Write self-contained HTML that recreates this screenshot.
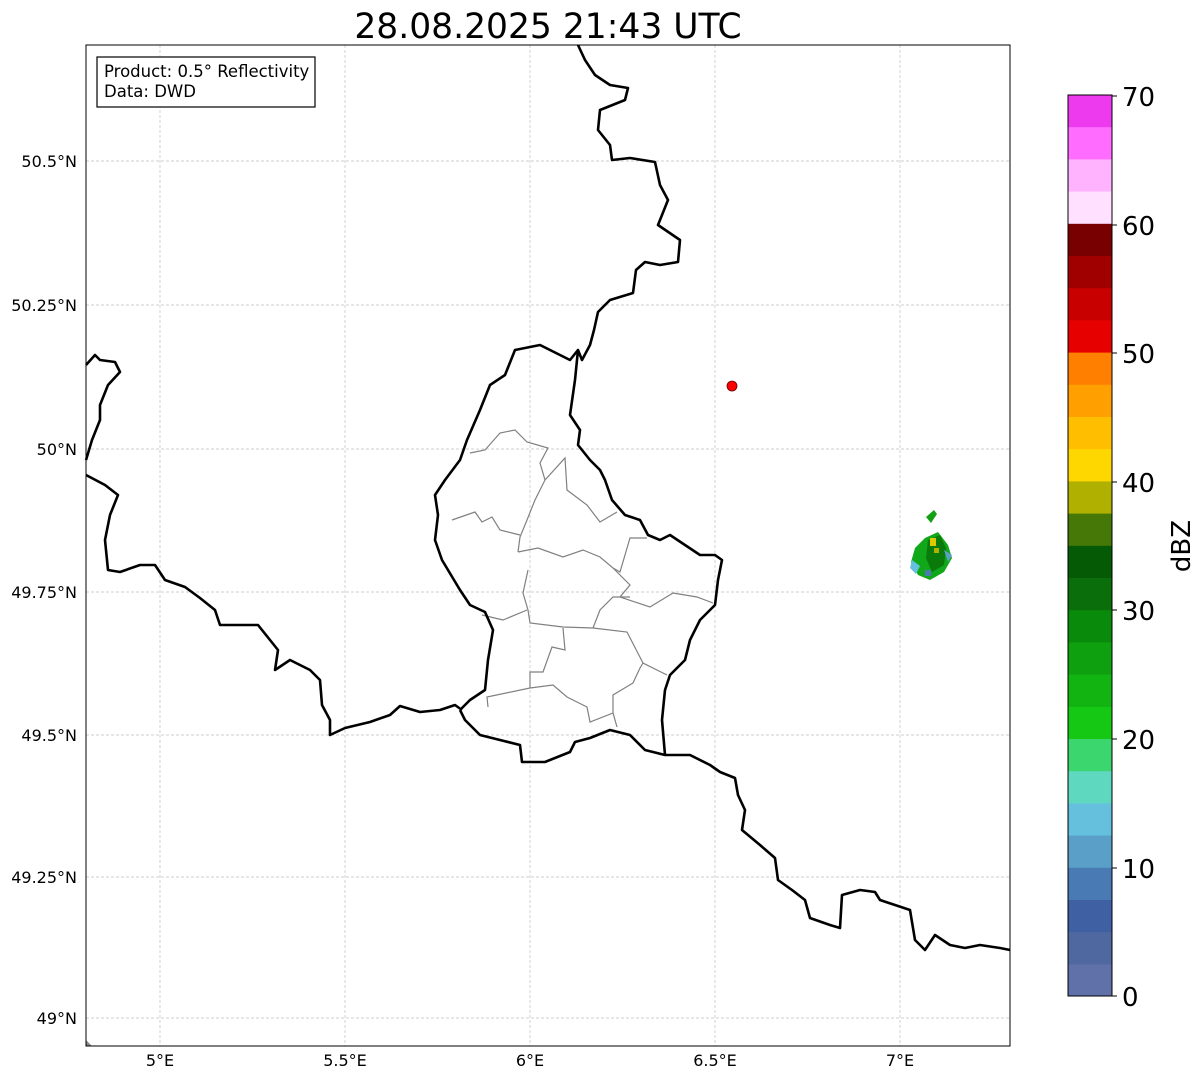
<!DOCTYPE html>
<html><head><meta charset="utf-8"><style>
body{margin:0;background:#fff;font-family:"DejaVu Sans",sans-serif;}
</style></head><body>
<svg width="1202" height="1081" viewBox="0 0 1202 1081" xmlns="http://www.w3.org/2000/svg" font-family="DejaVu Sans, sans-serif">
<rect width="1202" height="1081" fill="#fff"/>
<text x="548" y="38" font-size="34.5" text-anchor="middle">28.08.2025 21:43 UTC</text>
<g stroke="#c0c0c0" stroke-width="0.7" stroke-dasharray="3,2">
<line x1="160" y1="45" x2="160" y2="1046"/><line x1="345" y1="45" x2="345" y2="1046"/><line x1="530" y1="45" x2="530" y2="1046"/><line x1="715" y1="45" x2="715" y2="1046"/><line x1="900" y1="45" x2="900" y2="1046"/>
<line x1="86" y1="161" x2="1010" y2="161"/><line x1="86" y1="305" x2="1010" y2="305"/><line x1="86" y1="449" x2="1010" y2="449"/><line x1="86" y1="592" x2="1010" y2="592"/><line x1="86" y1="735" x2="1010" y2="735"/><line x1="86" y1="877" x2="1010" y2="877"/><line x1="86" y1="1018" x2="1010" y2="1018"/>
</g>
<g fill="none" stroke="#808080" stroke-width="1.2">
<polyline points="470,453 485,450 500,433 515,430 527,442 548,448 540,463 545,480 535,500 527,520 520,537 518,552"/>
<polyline points="452,520 475,512 482,522 492,517 500,530 520,535"/>
<polyline points="545,480 565,458 567,490 587,505 600,522 617,512"/>
<polyline points="518,552 538,548 563,557 583,550 600,557 613,568 620,572 630,538 647,538"/>
<polyline points="613,568 630,585 620,597 650,607 673,593 697,597 713,603"/>
<polyline points="528,570 523,593 528,610 530,623 563,627 593,628 627,632 643,663 667,675"/>
<polyline points="482,615 503,620 527,610"/>
<polyline points="593,628 600,610 613,597 630,597"/>
<polyline points="563,628 565,650 552,647 543,672 530,672 530,688 487,697 488,707"/>
<polyline points="530,688 553,685 567,697 587,707 590,722 613,713 613,695 633,683 640,668 643,663"/>
<polyline points="613,713 617,727"/>
</g>
<g fill="none" stroke="#000" stroke-width="2.6" stroke-linejoin="round">
<polyline points="578,45 585,60 595,75 610,85 628,88 625,100 600,110 598,130 610,145 612,160 630,158 655,162 660,185 668,200 658,225 680,240 678,262 660,265 645,262 636,270 633,293 610,300 598,312 594,330 590,345 582,360 578,350 575,380 570,415 580,430 578,445 590,460 600,470 605,480 612,500 625,515 640,520 648,535 660,540 670,535 685,545 700,555 715,555 722,560 718,580 715,605 700,620 690,640 685,660 670,675 665,690 662,720 665,755"/>
<polyline points="578,350 570,360 540,345 515,350 505,375 490,385 480,410 467,440 460,460 445,480 435,495 438,515 435,540 442,560 460,590 470,605 485,612 493,630 488,660 485,690 470,700 460,710"/>
<polyline points="86,475 105,485 118,495 110,515 105,540 108,570 120,572 140,565 155,565 165,580 185,587 200,598 215,610 220,625 240,625 258,625 270,640 278,650 275,670 290,660 310,670 320,680 322,705 330,720 330,735 345,728 370,722 390,715 400,706 420,712 440,710 455,705 462,710"/>
<polyline points="460,710 465,720 480,735 500,740 520,745 522,762 545,762 570,752 575,742 590,738 610,730 630,735 645,750 665,755 690,755 710,765 720,772 735,778 738,795 745,810 742,830 760,845 775,858 778,880 792,890 805,900 810,918 830,925 840,928 842,895 860,890 875,892 880,900 895,905 910,910 915,940 925,950 935,935 950,945 965,948 980,945 1000,948 1010,950"/>
<polyline points="86,365 95,355 100,360 115,362 120,372 108,385 100,405 100,420 92,440 86,460"/>
</g>
<polygon points="86,1040 92,1046 86,1046" fill="#888"/>
<circle cx="732" cy="386" r="5" fill="#f00" stroke="#600" stroke-width="0.8"/>
<g>
<path d="M926,517 L934,510 L937,514 L931,523 Z" fill="#14a014"/>
<path d="M915,548 L925,538 L938,532 L948,545 L952,558 L944,572 L930,580 L918,575 L911,562 Z" fill="#10a818"/>
<path d="M928,540 L940,535 L946,548 L944,565 L932,572 L926,558 Z" fill="#0a7a0a"/>
<rect x="930" y="538" width="6" height="8" fill="#e0c800"/>
<rect x="934" y="548" width="5" height="5" fill="#b0b000"/>
<path d="M912,560 L920,566 L916,574 L910,568 Z" fill="#64c0dc"/>
<path d="M944,550 L952,555 L948,562 Z" fill="#5a9fc8"/>
<rect x="925" y="570" width="6" height="6" fill="#4a7ab4"/>
</g>
<rect x="86" y="45" width="924" height="1001" fill="none" stroke="#000" stroke-width="1"/>
<rect x="97" y="57" width="218" height="50" fill="#fff" stroke="#000" stroke-width="1.2"/>
<text x="104" y="77" font-size="16.5">Product: 0.5° Reflectivity</text>
<text x="104" y="97" font-size="16.5">Data: DWD</text>
<g font-size="16" text-anchor="middle">
<text x="160" y="1066">5°E</text><text x="345" y="1066">5.5°E</text><text x="530" y="1066">6°E</text><text x="715" y="1066">6.5°E</text><text x="900" y="1066">7°E</text>
</g>
<g font-size="16" text-anchor="end">
<text x="77" y="167">50.5°N</text><text x="77" y="311">50.25°N</text><text x="77" y="455">50°N</text><text x="77" y="598">49.75°N</text><text x="77" y="741">49.5°N</text><text x="77" y="883">49.25°N</text><text x="77" y="1024">49°N</text>
</g>
<g>
<rect x="1068" y="95.0" width="44" height="32.7" fill="#ee3aee"/>
<rect x="1068" y="127.2" width="44" height="32.7" fill="#ff6cff"/>
<rect x="1068" y="159.4" width="44" height="32.7" fill="#ffb3ff"/>
<rect x="1068" y="191.6" width="44" height="32.7" fill="#ffe0ff"/>
<rect x="1068" y="223.8" width="44" height="32.7" fill="#780000"/>
<rect x="1068" y="256.0" width="44" height="32.7" fill="#a00000"/>
<rect x="1068" y="288.2" width="44" height="32.7" fill="#c80000"/>
<rect x="1068" y="320.4" width="44" height="32.7" fill="#e60000"/>
<rect x="1068" y="352.6" width="44" height="32.7" fill="#ff8000"/>
<rect x="1068" y="384.8" width="44" height="32.7" fill="#ffa000"/>
<rect x="1068" y="417.0" width="44" height="32.7" fill="#ffbf00"/>
<rect x="1068" y="449.2" width="44" height="32.7" fill="#ffd700"/>
<rect x="1068" y="481.4" width="44" height="32.7" fill="#b0b000"/>
<rect x="1068" y="513.6" width="44" height="32.7" fill="#467808"/>
<rect x="1068" y="545.8" width="44" height="32.7" fill="#055a05"/>
<rect x="1068" y="578.0" width="44" height="32.7" fill="#0a6e0a"/>
<rect x="1068" y="610.2" width="44" height="32.7" fill="#0a8a0a"/>
<rect x="1068" y="642.4" width="44" height="32.7" fill="#0fa00f"/>
<rect x="1068" y="674.6" width="44" height="32.7" fill="#12b412"/>
<rect x="1068" y="706.8" width="44" height="32.7" fill="#14c814"/>
<rect x="1068" y="739.0" width="44" height="32.7" fill="#3cd66e"/>
<rect x="1068" y="771.2" width="44" height="32.7" fill="#5fd8c0"/>
<rect x="1068" y="803.4" width="44" height="32.7" fill="#64c0dc"/>
<rect x="1068" y="835.6" width="44" height="32.7" fill="#5a9fc8"/>
<rect x="1068" y="867.8" width="44" height="32.7" fill="#4a7ab4"/>
<rect x="1068" y="900.0" width="44" height="32.7" fill="#4060a4"/>
<rect x="1068" y="932.2" width="44" height="32.7" fill="#5068a0"/>
<rect x="1068" y="964.4" width="44" height="31.6" fill="#6070a8"/>
<rect x="1068" y="95" width="44" height="901" fill="none" stroke="#000" stroke-width="1"/>
</g>
<g stroke="#000" stroke-width="1">
<line x1="1112" y1="96" x2="1117" y2="96"/><line x1="1112" y1="225" x2="1117" y2="225"/><line x1="1112" y1="353" x2="1117" y2="353"/><line x1="1112" y1="482" x2="1117" y2="482"/><line x1="1112" y1="610" x2="1117" y2="610"/><line x1="1112" y1="739" x2="1117" y2="739"/><line x1="1112" y1="868" x2="1117" y2="868"/><line x1="1112" y1="996" x2="1117" y2="996"/>
</g>
<g font-size="26">
<text x="1122" y="106">70</text><text x="1122" y="235">60</text><text x="1122" y="363">50</text><text x="1122" y="492">40</text><text x="1122" y="620">30</text><text x="1122" y="749">20</text><text x="1122" y="878">10</text><text x="1122" y="1006">0</text>
</g>
<text transform="translate(1190,546) rotate(-90)" font-size="26" text-anchor="middle">dBZ</text>
</svg>
</body></html>
